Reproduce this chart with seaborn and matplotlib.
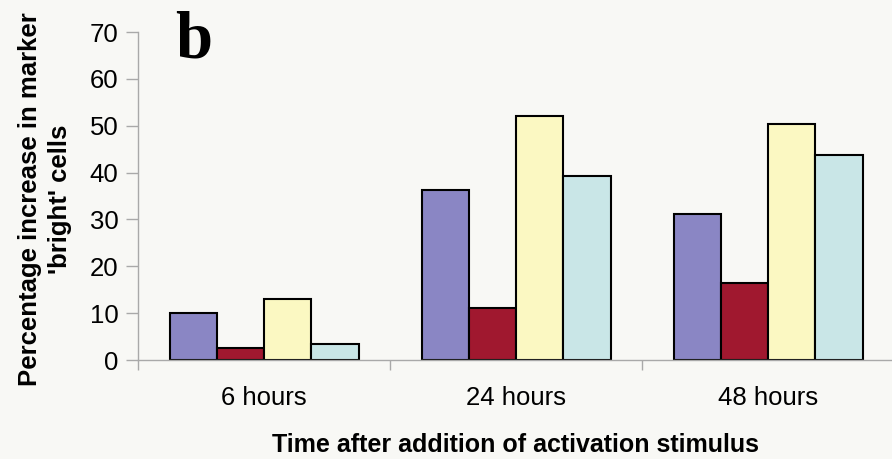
import matplotlib
matplotlib.use("Agg")
import matplotlib.pyplot as plt
from matplotlib.ticker import FixedLocator
import seaborn as sns
import pandas as pd

# values
times = ["6 hours", "24 hours", "48 hours"]
series = ["s1", "s2", "s3", "s4"]
s1 = [10.0, 36.2, 31.1]
s2 = [2.6, 11.1, 16.4]
s3 = [13.0, 52.0, 50.3]
s4 = [3.4, 39.2, 43.7]
colors = ["#8a86c4", "#a0182f", "#fbf8c2", "#c9e6e7"]

rows = []
for name, vals in zip(series, [s1, s2, s3, s4]):
    for t, v in zip(times, vals):
        rows.append({"time": t, "series": name, "value": v})
df = pd.DataFrame(rows)

sns.set_theme(style="white")
plt.rcParams["font.family"] = ["Liberation Sans", "DejaVu Sans"]
plt.rcParams["text.color"] = "black"
plt.rcParams["axes.labelcolor"] = "black"
bg = "#f8f8f5"
axis_col = "#a9a9a9"

fig = plt.figure(figsize=(8.92, 4.59), dpi=100, facecolor=bg)
ax = fig.add_axes([138 / 892, 99 / 459, 756 / 892, 328 / 459], facecolor=bg)

sns.barplot(data=df, x="time", y="value", hue="series", order=times,
            hue_order=series, palette=colors, width=0.75, gap=0,
            edgecolor="black", linewidth=1.5, saturation=1, legend=False, ax=ax)

ax.set_xlim(-0.5, 2.5)
ax.set_ylim(0, 70)
ax.set_yticks(range(0, 71, 10))
ax.tick_params(axis="y", direction="out", length=9, width=1, color=axis_col,
               labelsize=18.5, labelcolor="black", pad=5, left=True)
ax.tick_params(axis="x", which="major", length=0, labelsize=18.5,
               labelcolor="black", pad=19)
ax.xaxis.set_minor_locator(FixedLocator([-0.5, 0.5, 1.5, 2.5]))
ax.tick_params(axis="x", which="minor", direction="out", length=7, width=1,
               color=axis_col, bottom=True)
for s in ["top", "right"]:
    ax.spines[s].set_visible(False)
for s in ["left", "bottom"]:
    ax.spines[s].set_color(axis_col)
    ax.spines[s].set_linewidth(1)

ax.set_xlabel("Time after addition of activation stimulus", fontsize=18,
              fontweight="bold", labelpad=16)
ax.set_ylabel("Percentage increase in marker\n'bright' cells", fontsize=18.5,
              fontweight="bold", labelpad=13, linespacing=1.3)
ax.yaxis.label.set_y(0.49)

fig.text(175 / 892, 1 - 57 / 459, "b", fontsize=48, fontweight="bold",
         family="Liberation Serif", ha="left", va="baseline")

fig.savefig("out.png", dpi=100, facecolor=bg)
